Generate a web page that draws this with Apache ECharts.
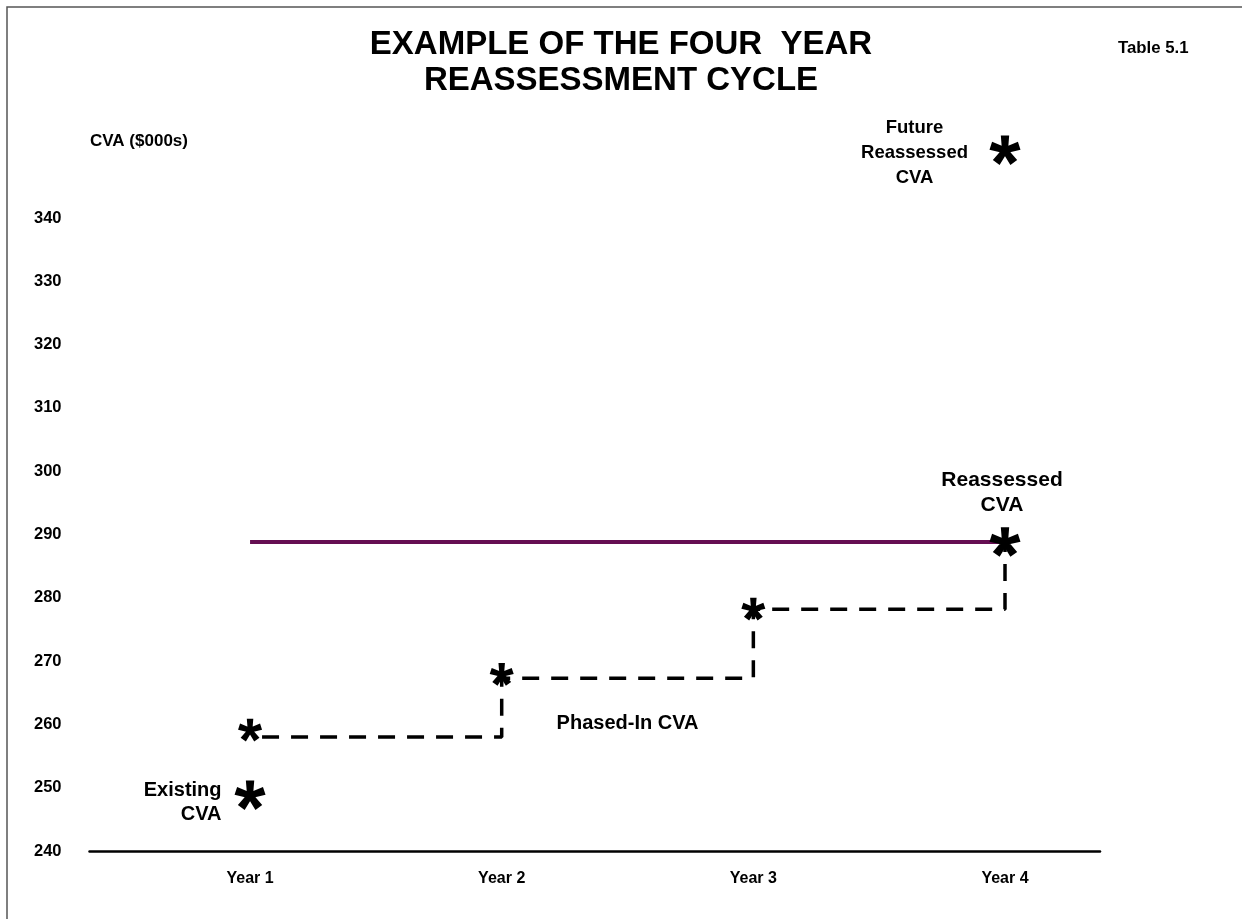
<!DOCTYPE html>
<html>
<head>
<meta charset="utf-8">
<script src="https://cdn.jsdelivr.net/npm/echarts@6/dist/echarts.min.js"></script>
<style>
  html, body { margin: 0; padding: 0; background: #ffffff; }
  #chart { width: 1242px; height: 919px; }
</style>
</head>
<body>
<div id="chart"></div>
<script>
// ---- data ----
const years = ['Year 1', 'Year 2', 'Year 3', 'Year 4'];
const yTickValues = [240, 250, 260, 270, 280, 290, 300, 310, 320, 330, 340];
const existingCVA = [[1, 248.8]];
const phasedStars = [[1, 259.1], [2, 267.9], [3, 278.2]];
const phasedLevels = [258.0, 267.3, 278.2];
const reassessedCVA = [[4, 288.8]];
const futureCVA = [[4, 350.7]];
const currentLine = [[1, 288.8], [4, 288.8]];
const phasedNote = [[2.5, 260.2]];

// build the stepped phase-in path from the levels
const stepData = [];
phasedLevels.forEach((lv, i) => {
  stepData.push([i + 1, lv]);
  stepData.push([i + 2, lv]);
});
stepData.push([4, reassessedCVA[0][1]]);

// 5-armed asterisk symbol (arms slightly wider at the tips, like Arial's *)
function asteriskPath(L, w0, w1) {
  let s = '';
  [90, 18, 162, -54, 234].forEach(a => {
    const t = a * Math.PI / 180;
    const dx = Math.cos(t), dy = -Math.sin(t);
    const nx = Math.sin(t), ny = Math.cos(t);
    const pts = [
      [-nx * w0, -ny * w0],
      [-nx * w1 + L * dx, -ny * w1 + L * dy],
      [nx * w1 + L * dx, ny * w1 + L * dy],
      [nx * w0, ny * w0]
    ];
    s += 'M' + pts.map(p => p[0].toFixed(3) + ' ' + p[1].toFixed(3)).join(' L') + ' Z ';
  });
  return 'path://' + s;
}
const STAR = asteriskPath(10, 2.0, 2.8);
const FONT = '"Liberation Sans", Arial, Helvetica, sans-serif';

const chart = echarts.init(document.getElementById('chart'), null, { renderer: 'canvas' });
chart.setOption({
  animation: false,
  backgroundColor: '#ffffff',
  textStyle: { fontFamily: FONT },
  graphic: [{
    type: 'rect',
    shape: { x: 7, y: 7, width: 1260, height: 940 },
    style: { fill: 'none', stroke: '#555555', lineWidth: 1.5 },
    silent: true, z: -10
  }],
  title: [
    {
      text: 'EXAMPLE OF THE FOUR  YEAR\nREASSESSMENT CYCLE',
      left: 'center', top: 27, padding: 0,
      textStyle: { fontFamily: FONT, fontSize: 33, fontWeight: 'bold', color: '#000', lineHeight: 36 }
    },
    {
      text: 'Table 5.1', left: 1118, top: 40, padding: 0,
      textStyle: { fontFamily: FONT, fontSize: 16.8, fontWeight: 'bold', color: '#000' }
    },
    {
      text: 'CVA ($000s)', left: 90, top: 133, padding: 0,
      textStyle: { fontFamily: FONT, fontSize: 17, fontWeight: 'bold', color: '#000' }
    }
  ],
  grid: { left: 89.5, right: 142, top: 142, bottom: 68, containLabel: false },
  xAxis: {
    type: 'value', min: 0.362, max: 4.3775,
    splitLine: { show: false },
    axisTick: { show: false },
    axisLine: { show: true, lineStyle: { color: '#000', width: 2.5 } },
    axisLabel: {
      customValues: [1, 2, 3, 4],
      formatter: v => years[Math.round(v) - 1] || '',
      margin: 20, fontFamily: FONT, fontSize: 16, fontWeight: 'bold', color: '#000'
    }
  },
  yAxis: {
    type: 'value', min: 240, max: 352, interval: 10,
    splitLine: { show: false },
    axisTick: { show: false },
    axisLine: { show: false },
    axisLabel: {
      customValues: yTickValues,
      formatter: v => (v > 340 ? '' : String(v)),
      margin: 28, fontFamily: FONT, fontSize: 16.5, fontWeight: 'bold', color: '#000'
    }
  },
  series: [
    {
      name: 'Current CVA', type: 'line', data: currentLine,
      showSymbol: false, symbol: 'none', z: 2,
      lineStyle: { color: '#650E52', width: 4 }
    },
    {
      name: 'Phase-in step', type: 'line', data: stepData,
      showSymbol: false, symbol: 'none', z: 2,
      lineStyle: { color: '#000', width: 3.5, type: [17, 12], dashOffset: 17 }
    },
    {
      name: 'Existing CVA', type: 'scatter', data: existingCVA, z: 5,
      symbol: STAR, symbolSize: 31, symbolKeepAspect: true,
      itemStyle: { color: '#000', opacity: 1 },
      label: {
        show: true, formatter: 'Existing\nCVA', position: 'left', distance: 13, offset: [0, 7],
        align: 'right', fontFamily: FONT, fontSize: 20, fontWeight: 'bold', color: '#000', lineHeight: 24
      }
    },
    {
      name: 'Phased-In CVA', type: 'scatter', data: phasedStars, z: 5,
      symbol: STAR, symbolSize: 24, symbolKeepAspect: true,
      itemStyle: { color: '#000', opacity: 1 }
    },
    {
      name: 'Reassessed CVA', type: 'scatter', data: reassessedCVA, z: 5,
      symbol: STAR, symbolSize: 31, symbolKeepAspect: true,
      itemStyle: { color: '#000', opacity: 1 },
      label: {
        show: true, formatter: 'Reassessed\nCVA', position: 'top', distance: 10, offset: [-3, 0],
        fontFamily: FONT, fontSize: 21, fontWeight: 'bold', color: '#000', lineHeight: 25
      }
    },
    {
      name: 'Future Reassessed CVA', type: 'scatter', data: futureCVA, z: 5,
      symbol: STAR, symbolSize: 31, symbolKeepAspect: true,
      itemStyle: { color: '#000', opacity: 1 },
      label: {
        show: true, formatter: 'Future\nReassessed\nCVA', position: [-75, 17],
        align: 'center', verticalAlign: 'middle',
        fontFamily: FONT, fontSize: 18.5, fontWeight: 'bold', color: '#000', lineHeight: 25
      }
    },
    {
      name: 'Phased-In note', type: 'scatter', data: phasedNote, z: 5,
      symbolSize: 1, itemStyle: { color: 'rgba(0,0,0,0)', opacity: 1 },
      label: {
        show: true, formatter: 'Phased-In CVA', position: 'top', distance: 0, offset: [0, 11],
        textBorderWidth: 0, fontFamily: FONT, fontSize: 20, fontWeight: 'bold', color: '#000'
      }
    }
  ]
});
</script>
</body>
</html>
